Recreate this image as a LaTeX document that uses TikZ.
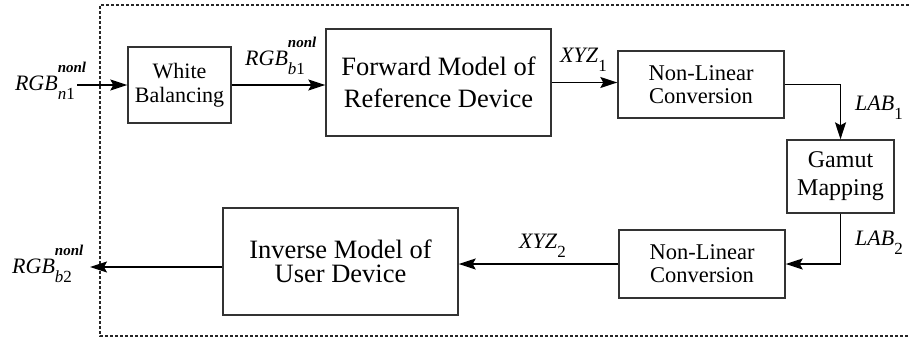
\documentclass[tikz,border=0pt]{standalone}
\usepackage{fontspec}
\setmainfont{Liberation Serif}
\usetikzlibrary{arrows.meta}

% signal name with raised superscript and lowered subscript
\newcommand{\sig}[3]{\textit{#1}\rlap{\raisebox{18pt}{\fontsize{15}{15}\selectfont\bfseries\itshape #2}}\raisebox{-9pt}{\fontsize{17}{17}\selectfont #3}}

\begin{document}
\begin{tikzpicture}[
    x=1pt, y=-1pt,
    block/.style={rectangle, draw=black!80, line width=1.4pt, align=center, inner sep=0pt},
    signal/.style={font=\fontsize{22}{24}\selectfont, inner sep=0pt},
    flow/.style={draw=black, line width=1.3pt, -{Stealth[length=17pt, width=11pt, inset=3pt]}},
    frame/.style={draw=black!85, line width=1.3pt, dash pattern=on 3pt off 2pt}
]
    \useasboundingbox (0,0) rectangle (909,340);

    % system border
    \draw[frame] (909,5) -- (100,5) -- (100,336) -- (909,336);

    % upper row
    \node[block, minimum width=103pt, minimum height=76pt, font=\fontsize{22}{24}\selectfont] (wb) at (179.5,85) {White\\Balancing};
    \node[block, minimum width=225pt, minimum height=107pt, font=\fontsize{26.5}{32}\selectfont] (fwd) at (438.5,82.5) {Forward Model of\\Reference Device};
    \node[block, minimum width=166pt, minimum height=67pt, font=\fontsize{22.5}{23}\selectfont] (nlc-a) at (701,84.5) {Non-Linear\\Conversion};

    % gamut mapping
    \node[block, minimum width=107pt, minimum height=73pt, font=\fontsize{24}{28}\selectfont] (gm) at (840.5,176.5) {Gamut\\Mapping};

    % lower row
    \node[block, minimum width=166pt, minimum height=68pt, font=\fontsize{22.5}{23}\selectfont] (nlc-b) at (702,264) {Non-Linear\\Conversion};
    \node[block, minimum width=235pt, minimum height=107pt, font=\fontsize{26.5}{24}\selectfont] (inv) at (340.5,261.5) {Inverse Model of\\User Device};

    % signals
    \coordinate (in) at (77,85);
    \coordinate (out) at (90,267);
    \node[signal, anchor=base east] (rgb-in) at (75,90) {\sig{RGB}{nonl}{\itshape n\upshape 1}};
    \node[signal, anchor=base west] (rgb-b1) at (245,65) {\sig{RGB}{nonl}{\itshape b\upshape 1}};
    \node[signal, anchor=base west] (xyz-a) at (560,62) {\sig{XYZ}{}{1}};
    \node[signal, anchor=base west] (lab-a) at (855,110) {\sig{LAB}{}{1}};
    \node[signal, anchor=base west] (lab-b) at (855,245) {\sig{LAB}{}{2}};
    \node[signal, anchor=base west] (xyz-b) at (519,248) {\sig{XYZ}{}{2}};
    \node[signal, anchor=base west] (rgb-out) at (12,273) {\sig{RGB}{nonl}{\itshape b\upshape 2}};

    % connectors
    \draw[flow] (in) -- (wb.west |- in);
    \draw[flow] (wb.east) -- (wb.east -| fwd.west);
    \draw[flow] (fwd.east) -- (fwd.east -| nlc-a.west);
    \draw[flow] (nlc-a.east) -| (gm.north);
    \draw[flow] (gm.south) |- (nlc-b.east);
    \draw[flow] (nlc-b.west) -- (nlc-b.west -| inv.east);
    \draw[flow] (inv.west |- out) -- (out);
\end{tikzpicture}
\end{document}
